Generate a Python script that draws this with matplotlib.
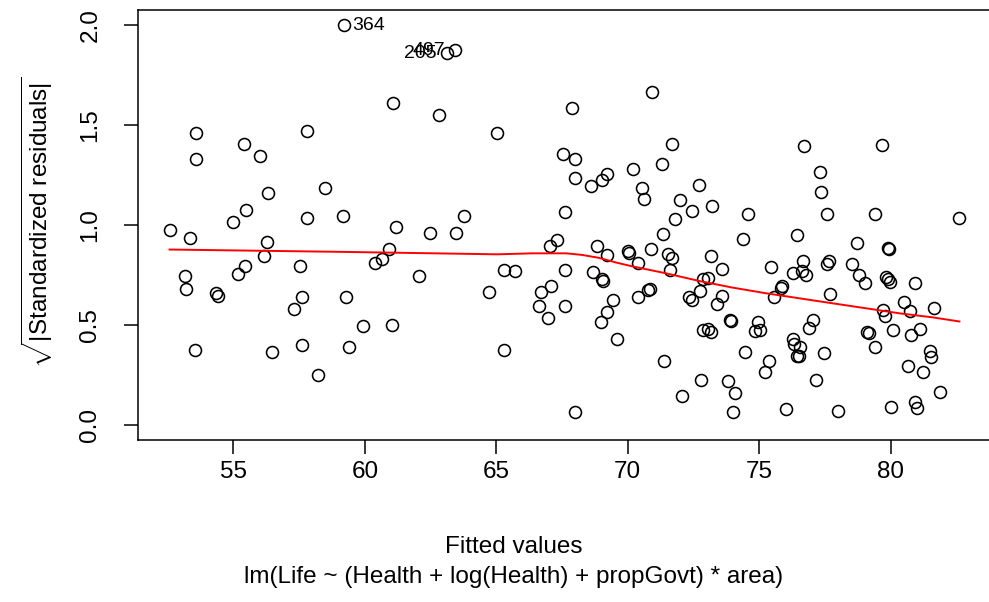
import numpy as np
import matplotlib
matplotlib.use("Agg")
from matplotlib import pyplot as plt

plt.rcParams['font.family'] = ['Liberation Sans', 'DejaVu Sans']
plt.rcParams['mathtext.fontset'] = 'custom'
plt.rcParams['mathtext.rm'] = 'Liberation Sans'
plt.rcParams['mathtext.it'] = 'Liberation Sans:italic'

# fitted values and sqrt(|standardized residuals|)
fitted = [53.56, 53.58, 55.42, 56.01, 57.79, 56.32, 58.47, 55.48, 55.00, 57.81,
          59.17, 52.59, 53.34, 56.27, 56.17, 55.44, 55.18, 57.52, 53.14, 53.21,
          54.32, 54.42, 57.60, 57.31, 59.30, 53.52, 56.48, 57.60, 58.22, 59.41,
          61.07, 62.83, 65.02, 59.19, 63.11, 63.44, 61.20, 62.49, 63.45, 63.76,
          60.92, 60.65, 60.40, 62.06, 59.94, 61.05, 65.30, 65.73, 64.71, 65.30,
          67.05, 67.08, 66.70, 66.62, 66.95, 67.89, 67.54, 67.99, 67.98, 68.59,
          69.03, 69.21, 70.20, 71.32, 71.67, 70.54, 70.63, 72.73, 72.00, 72.43,
          73.21, 74.57, 71.79, 67.60, 71.35, 74.38, 67.31, 68.83, 69.21, 70.02,
          70.06, 70.89, 70.41, 71.53, 71.69, 71.59, 73.17, 73.58, 72.86, 73.06,
          72.74, 73.60, 73.38, 72.35, 72.46, 67.61, 68.69, 69.03, 69.07, 67.61,
          69.45, 69.22, 68.98, 69.60, 70.40, 70.78, 70.83, 72.86, 73.06, 73.15,
          73.90, 73.94, 74.46, 74.94, 74.84, 75.05, 75.22, 71.38, 72.79, 72.06,
          73.81, 74.08, 73.99, 67.98, 70.93, 76.72, 79.66, 77.31, 77.35, 77.59,
          79.39, 82.62, 76.43, 78.71, 79.89, 79.93, 75.44, 76.65, 76.27, 76.80,
          76.62, 77.59, 77.66, 78.55, 78.78, 79.02, 77.69, 79.83, 79.89, 79.98,
          80.94, 75.86, 75.82, 75.57, 77.06, 76.91, 76.27, 76.34, 76.57, 76.43,
          76.52, 77.48, 75.38, 77.18, 76.01, 78.00, 79.12, 79.16, 79.40, 79.70,
          79.80, 80.11, 80.51, 80.73, 81.10, 80.77, 81.67, 81.49, 81.55, 80.65,
          81.24, 81.88, 80.00, 80.92, 81.00]
sqrt_abs_res = [1.458, 1.332, 1.403, 1.343, 1.470, 1.162, 1.185, 1.073, 1.013, 1.035,
                1.045, 0.977, 0.935, 0.915, 0.847, 0.793, 0.755, 0.797, 0.745, 0.680,
                0.662, 0.643, 0.640, 0.580, 0.638, 0.372, 0.363, 0.398, 0.248, 0.388,
                1.610, 1.550, 1.460, 2.000, 1.858, 1.875, 0.992, 0.960, 0.960, 1.045,
                0.880, 0.828, 0.810, 0.747, 0.493, 0.500, 0.773, 0.768, 0.667, 0.375,
                0.895, 0.697, 0.663, 0.593, 0.532, 1.583, 1.355, 1.328, 1.235, 1.193,
                1.225, 1.253, 1.282, 1.305, 1.405, 1.183, 1.130, 1.202, 1.127, 1.072,
                1.095, 1.055, 1.028, 1.063, 0.957, 0.928, 0.923, 0.897, 0.850, 0.868,
                0.862, 0.882, 0.808, 0.855, 0.833, 0.775, 0.843, 0.780, 0.728, 0.733,
                0.668, 0.645, 0.603, 0.638, 0.622, 0.777, 0.767, 0.728, 0.722, 0.592,
                0.625, 0.562, 0.513, 0.428, 0.638, 0.675, 0.682, 0.472, 0.478, 0.463,
                0.525, 0.517, 0.363, 0.512, 0.470, 0.475, 0.262, 0.317, 0.222, 0.142,
                0.217, 0.160, 0.063, 0.063, 1.665, 1.397, 1.398, 1.265, 1.165, 1.055,
                1.057, 1.035, 0.948, 0.908, 0.887, 0.878, 0.792, 0.822, 0.760, 0.748,
                0.772, 0.805, 0.818, 0.805, 0.748, 0.710, 0.657, 0.742, 0.728, 0.717,
                0.710, 0.697, 0.687, 0.640, 0.525, 0.483, 0.430, 0.403, 0.387, 0.342,
                0.345, 0.358, 0.317, 0.225, 0.078, 0.067, 0.463, 0.458, 0.387, 0.572,
                0.545, 0.472, 0.615, 0.568, 0.480, 0.447, 0.583, 0.368, 0.340, 0.292,
                0.265, 0.162, 0.087, 0.113, 0.083]

# red smoother
smooth_x = [52.57, 59.30, 65.04, 66.37, 67.66, 68.27, 68.92, 69.56, 70.17,
            71.46, 72.71, 73.97, 75.27, 76.53, 77.79, 79.07, 80.33, 81.58, 82.62]
smooth_y = [0.877, 0.865, 0.853, 0.858, 0.858, 0.850, 0.835, 0.812, 0.793,
            0.758, 0.720, 0.687, 0.658, 0.633, 0.608, 0.583, 0.558, 0.538, 0.517]

# labelled observations
id_labels = ['364', '205', '497']
id_x = [59.19, 63.11, 63.44]
id_y = [2.000, 1.858, 1.875]
id_side = ['right', 'left', 'left']

x_ticks = [55, 60, 65, 70, 75, 80]
y_ticks = [0.0, 0.5, 1.0, 1.5, 2.0]
y_tick_labels = ['0.0', '0.5', '1.0', '1.5', '2.0']

W, H = 989, 602
fig = plt.figure(figsize=(W / 100, H / 100), dpi=100)
ax = fig.add_axes([138 / W, 1 - 440 / H, 853 / W, 430.5 / H])

ax.plot(fitted, sqrt_abs_res, 'o', mfc='none', mec='black', ms=8.6, mew=1.15)
ax.plot(smooth_x, smooth_y, color='red', lw=1.4)

for lab, x, y, side in zip(id_labels, id_x, id_y, id_side):
    dx = 6.5 if side == 'right' else -7.5
    ax.annotate(lab, (x, y), xytext=(dx, 0), textcoords='offset points',
                ha='left' if side == 'right' else 'right', va='center',
                fontsize=14)

ax.set_xlim(51.37, 83.82)
ax.set_ylim(-0.076, 2.078)
ax.set_xticks(x_ticks)
ax.set_yticks(y_ticks)
ax.set_yticklabels(y_tick_labels, rotation=90, va='center')
ax.tick_params(direction='out', length=10.4, width=1.1, labelsize=17.5,
               color='black')
ax.tick_params(axis='x', pad=5)
ax.tick_params(axis='y', pad=16)
for sp in ax.spines.values():
    sp.set_linewidth(1.1)

fig.text(514 / W, 1 - 547 / H, 'Fitted values', ha='center', va='center',
         fontsize=17.5)
fig.text(514 / W, 1 - 577 / H,
         'lm(Life ~ (Health + log(Health) + propGovt) * area)',
         ha='center', va='center', fontsize=17.5)
fig.text(37 / W, 1 - 222 / H, r'$\sqrt{|\mathrm{Standardized\ residuals}|}$',
         ha='center', va='center', rotation=90, fontsize=17.5)

fig.savefig('out.png', dpi=100)
